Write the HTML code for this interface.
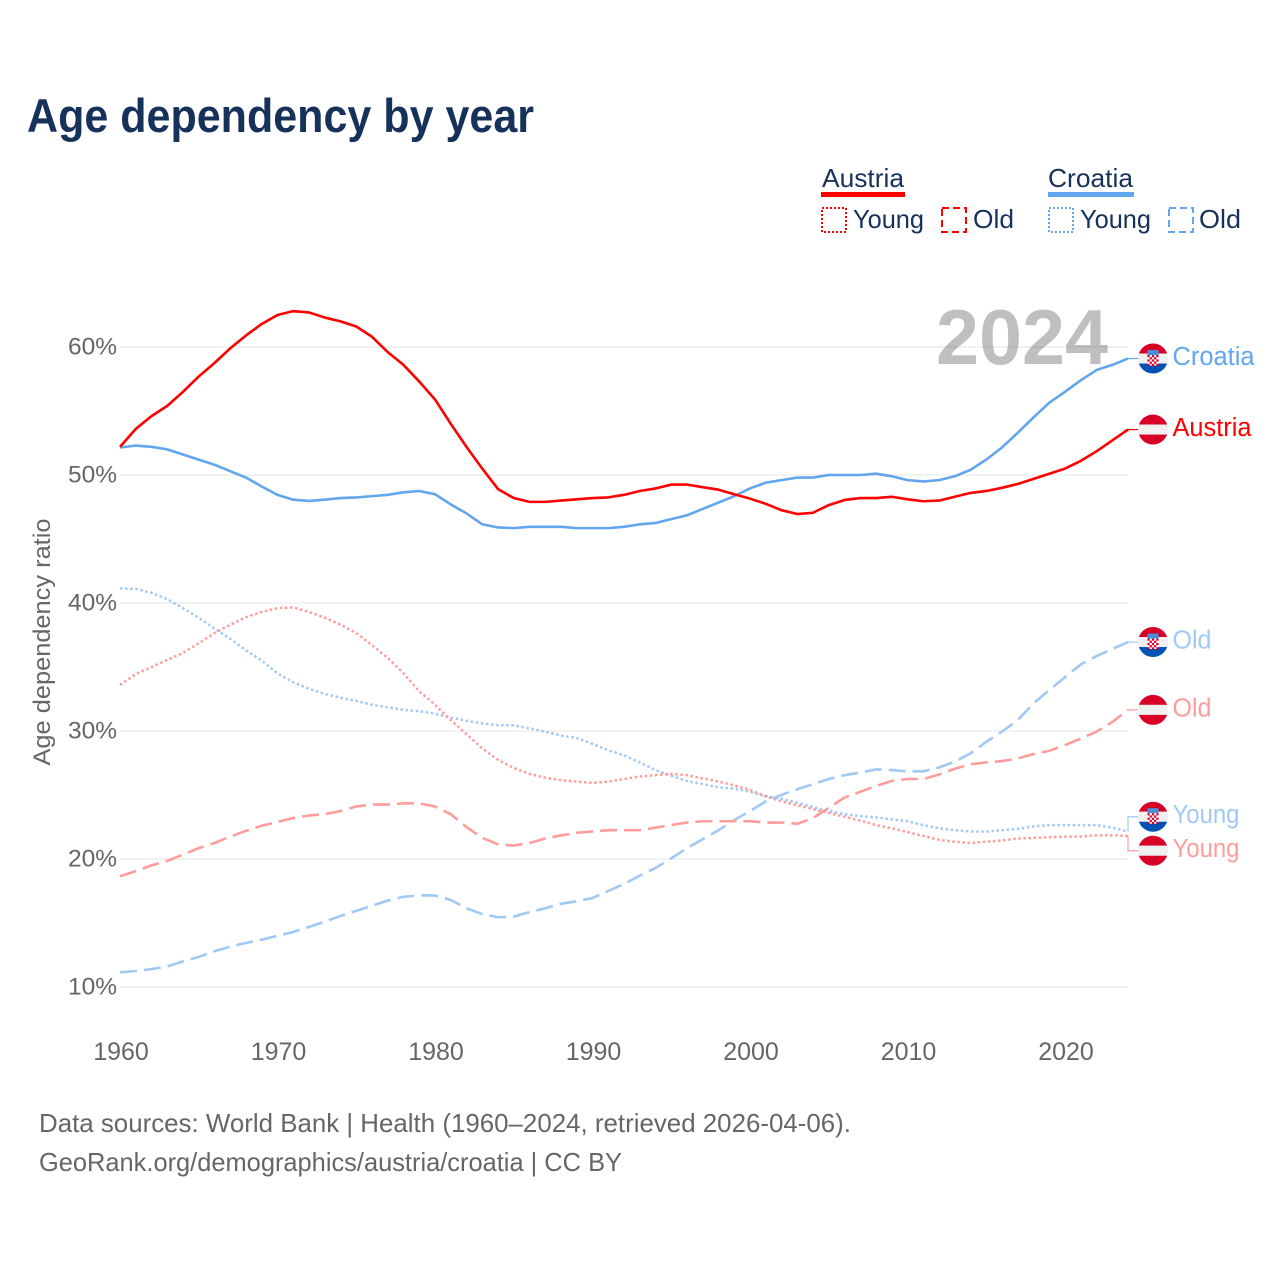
<!DOCTYPE html>
<html lang="en">
<head>
<meta charset="utf-8">
<title>Age dependency by year</title>
<style>
  html, body { margin: 0; padding: 0; background: #fff; }
  svg { display: block; font-family: "Liberation Sans", sans-serif; }
</style>
</head>
<body>
<svg id="chart" xmlns="http://www.w3.org/2000/svg" width="1280" height="1280" viewBox="0 0 1280 1280">
  <rect width="1280" height="1280" fill="#ffffff"/>
  <text x="27" y="132" font-size="47.5" font-weight="700" fill="#16325a" textLength="507" lengthAdjust="spacingAndGlyphs">Age dependency by year</text>

  <g font-size="26" fill="#16325a">
    <g>
      <text x="822" y="187" textLength="82" lengthAdjust="spacingAndGlyphs">Austria</text>
      <rect x="821" y="192" width="84" height="5" fill="#ff0000"/>
      <rect x="822" y="208" width="24" height="24" fill="none" stroke="#ff0000" stroke-width="2" stroke-dasharray="2 2"/>
      <text x="853" y="228" textLength="71" lengthAdjust="spacingAndGlyphs">Young</text>
      <rect x="942" y="208" width="24" height="24" fill="none" stroke="#ff0000" stroke-width="2" stroke-dasharray="7 4"/>
      <text x="973" y="228" textLength="41" lengthAdjust="spacingAndGlyphs">Old</text>
    </g>
    <g>
      <text x="1048" y="187" textLength="85" lengthAdjust="spacingAndGlyphs">Croatia</text>
      <rect x="1048" y="192" width="86" height="5" fill="#62a6ee"/>
      <rect x="1049" y="208" width="24" height="24" fill="none" stroke="#62a6ee" stroke-width="2" stroke-dasharray="2 2"/>
      <text x="1080" y="228" textLength="71" lengthAdjust="spacingAndGlyphs">Young</text>
      <rect x="1169" y="208" width="24" height="24" fill="none" stroke="#62a6ee" stroke-width="2" stroke-dasharray="7 4"/>
      <text x="1199" y="228" textLength="42" lengthAdjust="spacingAndGlyphs">Old</text>
    </g>
  </g>

  <g id="grid"></g>
  <text x="936" y="364" font-size="78" font-weight="700" fill="#000000" fill-opacity="0.25" textLength="172" lengthAdjust="spacingAndGlyphs">2024</text>
  <g id="yticks"></g>
  <g id="xticks"></g>
  <text transform="translate(50 642) rotate(-90)" text-anchor="middle" font-size="24.5" fill="#666666" textLength="247" lengthAdjust="spacingAndGlyphs">Age dependency ratio</text>
  <g id="lines"></g>
  <g id="ends"></g>

  <g font-size="26" fill="#666666">
    <text x="39" y="1132" textLength="812" lengthAdjust="spacingAndGlyphs">Data sources: World Bank | Health (1960–2024, retrieved 2026-04-06).</text>
    <text x="39" y="1171" textLength="583" lengthAdjust="spacingAndGlyphs">GeoRank.org/demographics/austria/croatia | CC BY</text>
  </g>
</svg>

<script>
const years = [1960,1961,1962,1963,1964,1965,1966,1967,1968,1969,
  1970,1971,1972,1973,1974,1975,1976,1977,1978,1979,
  1980,1981,1982,1983,1984,1985,1986,1987,1988,1989,
  1990,1991,1992,1993,1994,1995,1996,1997,1998,1999,
  2000,2001,2002,2003,2004,2005,2006,2007,2008,2009,
  2010,2011,2012,2013,2014,2015,2016,2017,2018,2019,
  2020,2021,2022,2023,2024];

const austriaTotal = [52.2,53.6,54.6,55.4,56.5,57.7,58.75,59.9,60.9,61.8,
  62.5,62.8,62.7,62.3,62.0,61.6,60.8,59.6,58.6,57.3,
  55.9,54.0,52.2,50.5,48.9,48.2,47.9,47.9,48.0,48.1,
  48.2,48.25,48.45,48.75,48.95,49.25,49.25,49.05,48.85,48.5,
  48.15,47.75,47.25,46.95,47.05,47.65,48.05,48.2,48.2,48.3,
  48.1,47.95,48.0,48.3,48.6,48.75,49.0,49.3,49.7,50.1,
  50.5,51.1,51.85,52.7,53.55];

const croatiaTotal = [52.15,52.3,52.2,52.0,51.6,51.2,50.8,50.3,49.8,49.1,
  48.45,48.07,47.97,48.07,48.2,48.25,48.35,48.45,48.65,48.75,
  48.5,47.7,47.0,46.15,45.9,45.85,45.95,45.95,45.95,45.85,
  45.85,45.85,45.95,46.15,46.25,46.55,46.85,47.35,47.85,48.35,
  48.95,49.4,49.6,49.8,49.8,50.0,50.0,50.0,50.1,49.9,
  49.6,49.5,49.6,49.9,50.4,51.2,52.15,53.3,54.5,55.65,
  56.5,57.4,58.2,58.6,59.1];

const croatiaYoung = [41.15,41.1,40.8,40.3,39.6,38.85,38.0,37.2,36.3,35.5,
  34.5,33.8,33.3,32.9,32.6,32.35,32.05,31.85,31.65,31.55,
  31.35,31.05,30.8,30.6,30.45,30.45,30.2,29.95,29.65,29.45,
  29.0,28.5,28.1,27.55,26.95,26.5,26.1,25.85,25.6,25.5,
  25.25,24.9,24.7,24.4,24.05,23.75,23.5,23.35,23.25,23.1,
  22.95,22.65,22.4,22.25,22.15,22.15,22.25,22.35,22.55,22.65,
  22.65,22.65,22.65,22.45,22.15];

const austriaYoung = [33.6,34.45,35.0,35.55,36.1,36.85,37.65,38.3,38.9,39.3,
  39.6,39.65,39.3,38.85,38.3,37.65,36.7,35.7,34.5,33.1,
  32.05,30.85,29.75,28.65,27.75,27.1,26.65,26.35,26.15,26.05,
  25.95,26.05,26.25,26.45,26.55,26.65,26.55,26.3,26.05,25.75,
  25.4,24.9,24.5,24.2,23.9,23.6,23.3,23.0,22.65,22.4,
  22.1,21.8,21.5,21.35,21.25,21.35,21.45,21.6,21.65,21.7,
  21.75,21.75,21.85,21.85,21.8];

const austriaOld = [18.65,19.05,19.5,19.85,20.35,20.85,21.25,21.75,22.2,22.6,
  22.9,23.2,23.4,23.5,23.75,24.1,24.25,24.25,24.35,24.35,
  24.1,23.5,22.5,21.65,21.15,21.05,21.25,21.6,21.85,22.05,
  22.15,22.25,22.25,22.25,22.45,22.65,22.85,22.95,22.95,22.95,
  22.95,22.85,22.85,22.75,23.2,24.0,24.8,25.25,25.7,26.1,
  26.25,26.25,26.6,27.05,27.4,27.55,27.65,27.85,28.2,28.45,
  28.9,29.4,29.95,30.7,31.65];

const croatiaOld = [11.15,11.25,11.4,11.6,12.0,12.35,12.8,13.15,13.45,13.7,
  14.0,14.3,14.7,15.1,15.55,15.95,16.35,16.75,17.05,17.15,
  17.15,16.8,16.15,15.7,15.45,15.5,15.85,16.15,16.5,16.7,
  16.95,17.5,18.05,18.7,19.3,20.05,20.85,21.55,22.25,23.05,
  23.75,24.5,25.0,25.45,25.85,26.25,26.55,26.75,27.0,26.95,
  26.85,26.85,27.15,27.6,28.25,29.15,29.95,30.85,32.15,33.2,
  34.2,35.2,35.85,36.4,36.95];

const yTickValues = [10,20,30,40,50,60];
const xTickValues = [1960,1970,1980,1990,2000,2010,2020];

const SVG_NS = 'http://www.w3.org/2000/svg';
const xScale = function (year) { return 120 + (year - 1960) * 15.75; };
const yScale = function (value) { return 987 - (value - 10) * 12.8; };

function make(tag, attrs, parent) {
  const el = document.createElementNS(SVG_NS, tag);
  Object.keys(attrs).forEach(function (k) { el.setAttribute(k, attrs[k]); });
  parent.appendChild(el);
  return el;
}

const gridG = document.getElementById('grid');
const yG = document.getElementById('yticks');
yTickValues.forEach(function (v) {
  const line = make('line', {x1: 120, x2: 1128, y1: yScale(v), y2: yScale(v), stroke: '#eeeeee', 'stroke-width': 1.5}, gridG);
  
  
  const t = make('text', {x: 117, y: yScale(v) + 7.5, 'text-anchor': 'end', 'font-size': 24.5, fill: '#666666'}, yG);
  t.textContent = v + '%';
  
  
});

const xG = document.getElementById('xticks');
xTickValues.forEach(function (yr) {
  const t = make('text', {x: xScale(yr) + 1, y: 1060, 'text-anchor': 'middle', 'font-size': 25, fill: '#666666'}, xG);
  t.textContent = String(yr);
  
  
});

const seriesList = [
  {id: 'croatia-young', label: 'Young', flag: 'croatia', values: croatiaYoung, color: '#a0c9f5', dash: '2.5 2.6', width: 2.5, labelWidth: 67},
  {id: 'austria-young', label: 'Young', flag: 'austria', values: austriaYoung, color: '#ff9c9c', dash: '2.5 2.6', width: 2.5, labelWidth: 67},
  {id: 'croatia-old', label: 'Old', flag: 'croatia', values: croatiaOld, color: '#a0c9f5', dash: '17 7', width: 2.6, labelWidth: 39},
  {id: 'austria-old', label: 'Old', flag: 'austria', values: austriaOld, color: '#ff9c9c', dash: '17 7', width: 2.6, labelWidth: 39},
  {id: 'croatia-total', label: 'Croatia', flag: 'croatia', values: croatiaTotal, color: '#62a6ee', dash: '', width: 2.6, labelWidth: 82},
  {id: 'austria-total', label: 'Austria', flag: 'austria', values: austriaTotal, color: '#ff0000', dash: '', width: 2.6, labelWidth: 79}
];

const linesG = document.getElementById('lines');
seriesList.forEach(function (s) {
  const d = s.values.map(function (v, i) {
    return (i ? 'L' : 'M') + xScale(years[i]).toFixed(2) + ' ' + yScale(v).toFixed(2);
  }).join('');
  const attrs = {d: d, fill: 'none', stroke: s.color, 'stroke-width': s.width, 'stroke-linejoin': 'round'};
  if (s.dash) attrs['stroke-dasharray'] = s.dash;
  const path = make('path', attrs, linesG);
  
  
});

/* end labels: start from the last value, then push overlapping labels apart */
const MIN_GAP = 34;
const placed = seriesList.map(function (s) {
  const y = yScale(s.values[s.values.length - 1]);
  return {s: s, end: y, y: y};
}).sort(function (a, b) { return a.end - b.end; });
for (let pass = 0; pass < 20; pass++) {
  for (let i = 1; i < placed.length; i++) {
    const gap = placed[i].y - placed[i - 1].y;
    if (gap < MIN_GAP) {
      const shift = (MIN_GAP - gap) / 2;
      placed[i - 1].y -= shift;
      placed[i].y += shift;
    }
  }
}

function drawFlag(parent, kind, cx, cy) {
  const id = 'clip-' + kind + '-' + Math.round(cy);
  const defs = make('defs', {}, parent);
  const clip = make('clipPath', {id: id}, defs);
  make('circle', {cx: cx, cy: cy, r: 15}, clip);
  const g = make('g', {'clip-path': 'url(#' + id + ')'}, parent);
  
  
  const low = kind === 'croatia' ? '#0052b4' : '#d80027';
  make('rect', {x: cx - 16, y: cy - 16, width: 32, height: 11, fill: '#d80027'}, g);
  make('rect', {x: cx - 16, y: cy - 5, width: 32, height: 10, fill: '#f0f0f0'}, g);
  make('rect', {x: cx - 16, y: cy + 5, width: 32, height: 11, fill: low}, g);
  if (kind === 'croatia') {
    make('rect', {x: cx - 5.5, y: cy - 8.5, width: 11, height: 5, fill: '#4a8fdc'}, g);
    make('rect', {x: cx - 5.5, y: cy - 3.5, width: 11, height: 10.5, fill: '#ffffff'}, g);
    for (let row = 0; row < 5; row++) {
      for (let col = 0; col < 5; col++) {
        if ((row + col) % 2 === 0) {
          make('rect', {x: cx - 5.5 + col * 2.2, y: cy - 3.5 + row * 2.2, width: 2.2, height: 2.2, fill: '#d80027'}, g);
        }
      }
    }
  }
}

const endsG = document.getElementById('ends');
placed.forEach(function (p) {
  const s = p.s;
  const g = make('g', {}, endsG);
  
  
  const conn = make('path', {d: 'M1128 ' + p.end.toFixed(2) + 'L1128 ' + p.y.toFixed(2) + 'L1138 ' + p.y.toFixed(2), fill: 'none', stroke: s.color, 'stroke-width': 1.2}, g);
  
  
  drawFlag(g, s.flag, 1153, p.y);
  const t = make('text', {x: 1172.5, y: p.y + 6.5, 'font-size': 25.5, fill: s.color, textLength: s.labelWidth, lengthAdjust: 'spacingAndGlyphs'}, g);
  t.textContent = s.label;
  
  
});
</script>
</body>
</html>
